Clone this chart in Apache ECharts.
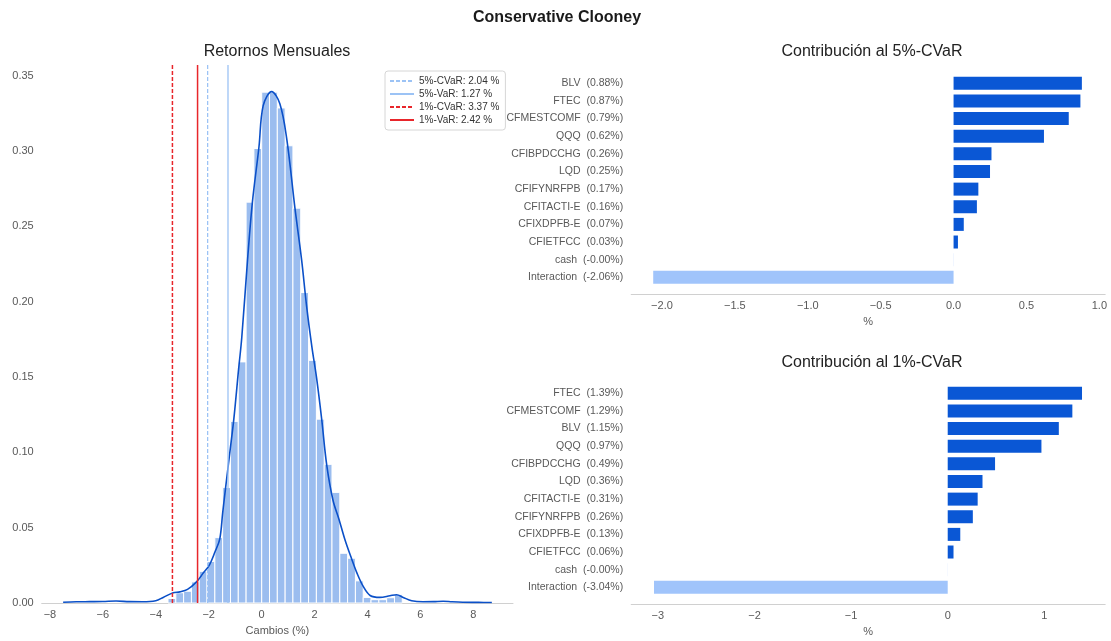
<!DOCTYPE html>
<html><head><meta charset="utf-8">
<script src="https://cdn.jsdelivr.net/npm/echarts@6/dist/echarts.min.js"></script>
<style>html,body{margin:0;padding:0;background:#fff}#c{width:1111px;height:641px}</style>
</head><body><div id="c"></div>
<script>
// ---- Histogram of monthly returns (density) ----
const histEdges = [-3.537,-3.242,-2.947,-2.652,-2.357,-2.062,-1.767,-1.472,-1.176,-0.881,-0.586,-0.291,0.004,0.299,0.594,0.889,1.184,1.479,1.775,2.070,2.365,2.660,2.955,3.250,3.545,3.840,4.135,4.431,4.726,5.021,5.316];
const histDensity = [0.003,0.0068,0.0078,0.014,0.021,0.0276,0.0434,0.0766,0.1205,0.160,0.266,0.3016,0.339,0.339,0.3285,0.3034,0.262,0.206,0.161,0.122,0.092,0.0734,0.033,0.0297,0.0147,0.0037,0.0022,0.0022,0.0035,0.0055];
// ---- KDE curve ----
const kdeX = [-7.5,-7.0,-6.5,-6.0,-5.5,-5.0,-4.5,-4.0,-3.72,-3.34,-3.09,-2.8,-2.46,-2.2,-1.98,-1.76,-1.58,-1.47,-1.35,-1.2,-1.05,-0.87,-0.75,-0.53,-0.35,-0.10,0.06,0.38,0.69,0.95,1.26,1.51,1.70,1.90,2.08,2.27,2.46,2.70,2.92,3.15,3.40,3.60,3.84,4.10,4.47,4.85,5.10,5.35,5.67,6.1,6.5,6.86,7.2,7.6,8.2,8.7];
const kdeY = [0.0005,0.0008,0.0009,0.0010,0.0013,0.0009,0.0008,0.0015,0.0037,0.0068,0.0074,0.0090,0.0140,0.0200,0.0250,0.0340,0.0426,0.0600,0.0780,0.1000,0.1220,0.1550,0.1760,0.2280,0.2656,0.3026,0.3300,0.3393,0.3313,0.3080,0.2620,0.2280,0.1970,0.1700,0.1490,0.1220,0.0917,0.0680,0.0558,0.0420,0.0294,0.0200,0.0110,0.0050,0.0037,0.0048,0.0055,0.0037,0.0015,0.0008,0.0009,0.0012,0.0008,0.0005,0.0004,0.0003];
// ---- Risk measures ----
const riskNames = ['5%-CVaR','5%-VaR','1%-CVaR','1%-VaR'];
const riskPct = [2.04,1.27,3.37,2.42];
const histXTicks = [-8,-6,-4,-2,0,2,4,6,8];
const histYTicks = [0,0.05,0.10,0.15,0.20,0.25,0.30,0.35];
// ---- Contributions ----
const cvar5Names = ['BLV','FTEC','CFMESTCOMF','QQQ','CFIBPDCCHG','LQD','CFIFYNRFPB','CFITACTI-E','CFIXDPFB-E','CFIETFCC','cash','Interaction'];
const cvar5Values = [0.88,0.87,0.79,0.62,0.26,0.25,0.17,0.16,0.07,0.03,-0.001,-2.06];
const cvar5Ticks = [-2,-1.5,-1,-0.5,0,0.5,1];
const cvar1Names = ['FTEC','CFMESTCOMF','BLV','QQQ','CFIBPDCCHG','LQD','CFITACTI-E','CFIFYNRFPB','CFIXDPFB-E','CFIETFCC','cash','Interaction'];
const cvar1Values = [1.39,1.29,1.15,0.97,0.49,0.36,0.31,0.26,0.13,0.06,-0.001,-3.04];
const cvar1Ticks = [-3,-2,-1,0,1];

const FONT = 'Liberation Sans, Arial, sans-serif';
const LBL = '#595959';
const minus = s => String(s).replace('-', '\u2212');
const HYMAX = 0.357;

const riskColors = ['#9cc3f5','#9cc3f5','#e8262b','#e8262b'];
const riskTypes = [[4,2],'solid',[4,2],'solid'];
const riskWidths = [1.3,1.3,1.5,1.5];
const riskLabels = riskNames.map((n,i)=> n + ': ' + riskPct[i].toFixed(2) + ' %');

const histData = histDensity.map((d,i)=>[histEdges[i], histEdges[i+1], d]);
const kdeData = kdeX.map((x,i)=>[x, kdeY[i]]);

function barLabels(names, vals){ return names.map((n,i)=> n + '  (' + vals[i].toFixed(2) + '%)'); }
const barColor = p => p.value < 0 ? '#a0c4fb' : '#0a57d5';

const chart = echarts.init(document.getElementById('c'), null, {renderer:'canvas'});
const option = {
  animation:false,
  backgroundColor:'#fff',
  textStyle:{fontFamily:FONT},
  title:[
    {text:'Conservative Clooney', left:557, textAlign:'center', top:10, padding:0, textStyle:{fontFamily:FONT, fontSize:16, fontWeight:'bold', color:'#1a1a1a'}},
    {text:'Retornos Mensuales', left:277, textAlign:'center', top:44, padding:0, textStyle:{fontFamily:FONT, fontSize:16, fontWeight:'normal', color:'#222'}},
    {text:'Contribución al 5%-CVaR', left:872, textAlign:'center', top:44, padding:0, textStyle:{fontFamily:FONT, fontSize:16, fontWeight:'normal', color:'#222'}},
    {text:'Contribución al 1%-CVaR', left:872, textAlign:'center', top:355, padding:0, textStyle:{fontFamily:FONT, fontSize:16, fontWeight:'normal', color:'#222'}}
  ],
  legend:{
    data:riskLabels, orient:'vertical', left:385, top:71,
    padding:[5,6,5,4], itemGap:3, itemWidth:24, itemHeight:12,
    itemStyle:{opacity:0},
    backgroundColor:'#fff', borderColor:'#d6d6d6', borderWidth:1, borderRadius:3,
    textStyle:{fontFamily:FONT, fontSize:10, color:'#333'}
  },
  grid:[
    {left:41.7, top:65, width:471.3, height:539.5},
    {left:631.2, top:74.5, width:474, height:211.6},
    {left:631.2, top:384.5, width:474, height:211.6}
  ],
  xAxis:[
    {gridIndex:0, type:'value', min:-8.31, max:9.5,
     name:'Cambios (%)', nameLocation:'middle', nameGap:22, nameTextStyle:{fontFamily:FONT, fontSize:11, color:LBL},
     axisLine:{show:true, lineStyle:{color:'#d0d0d0', width:1}}, axisTick:{show:false}, splitLine:{show:false},
     axisLabel:{customValues:histXTicks, margin:6, fontSize:11, color:LBL, fontFamily:FONT, formatter:v=>minus(v)}},
    {gridIndex:1, type:'value', min:-2.211, max:1.04, offset:8.5,
     name:'%', nameLocation:'middle', nameGap:22, nameTextStyle:{fontFamily:FONT, fontSize:11, color:LBL},
     axisLine:{show:true, lineStyle:{color:'#d0d0d0', width:1}}, axisTick:{show:false}, splitLine:{show:false},
     axisLabel:{customValues:cvar5Ticks, margin:6, fontSize:11, color:LBL, fontFamily:FONT, formatter:v=>minus(Number(v).toFixed(1))}},
    {gridIndex:2, type:'value', min:-3.276, max:1.63, offset:8.5,
     name:'%', nameLocation:'middle', nameGap:22, nameTextStyle:{fontFamily:FONT, fontSize:11, color:LBL},
     axisLine:{show:true, lineStyle:{color:'#d0d0d0', width:1}}, axisTick:{show:false}, splitLine:{show:false},
     axisLabel:{customValues:cvar1Ticks, margin:6, fontSize:11, color:LBL, fontFamily:FONT, formatter:v=>minus(Number(v).toFixed(0))}}
  ],
  yAxis:[
    {gridIndex:0, type:'value', min:0, max:HYMAX,
     axisLine:{show:false}, axisTick:{show:false}, splitLine:{show:false},
     axisLabel:{customValues:histYTicks, margin:8, fontSize:11, color:LBL, fontFamily:FONT, formatter:v=>Number(v).toFixed(2)}},
    {gridIndex:1, type:'category', inverse:true, data:barLabels(cvar5Names, cvar5Values),
     axisLine:{show:false}, axisTick:{show:false}, splitLine:{show:false},
     axisLabel:{margin:8, fontSize:10.5, color:LBL, fontFamily:FONT}},
    {gridIndex:2, type:'category', inverse:true, data:barLabels(cvar1Names, cvar1Values),
     axisLine:{show:false}, axisTick:{show:false}, splitLine:{show:false},
     axisLabel:{margin:8, fontSize:10.5, color:LBL, fontFamily:FONT}}
  ],
  series:[
    {type:'custom', xAxisIndex:0, yAxisIndex:0, data:histData, encode:{x:[0,1], y:2}, z:1,
     renderItem:(params, api)=>{
       const a = api.coord([api.value(0), api.value(2)]);
       const b = api.coord([api.value(1), 0]);
       return {type:'rect', shape:{x:a[0], y:a[1], width:b[0]-a[0], height:b[1]-a[1]},
               style:{fill:'#9bbdef', stroke:'#ffffff', lineWidth:1}};
     }},
    {type:'line', xAxisIndex:0, yAxisIndex:0, data:kdeData, showSymbol:false, symbol:'none',
     smooth:0.35, lineStyle:{color:'#0b50c8', width:1.6}, z:3},
  ].concat(riskPct.map((v,i)=>({
     type:'line', name:riskLabels[i], xAxisIndex:0, yAxisIndex:0, symbol:'none', showSymbol:false,
     data:[[-v,0],[-v,HYMAX]], z:4,
     itemStyle:{color:riskColors[i]},
     lineStyle:{color:riskColors[i], width:riskWidths[i], type:riskTypes[i]}
  }))).concat([
    {type:'bar', xAxisIndex:1, yAxisIndex:1, data:cvar5Values, barWidth:13,
     itemStyle:{color:barColor}},
    {type:'bar', xAxisIndex:2, yAxisIndex:2, data:cvar1Values, barWidth:13,
     itemStyle:{color:barColor}}
  ])
};
chart.setOption(option);
</script></body></html>
